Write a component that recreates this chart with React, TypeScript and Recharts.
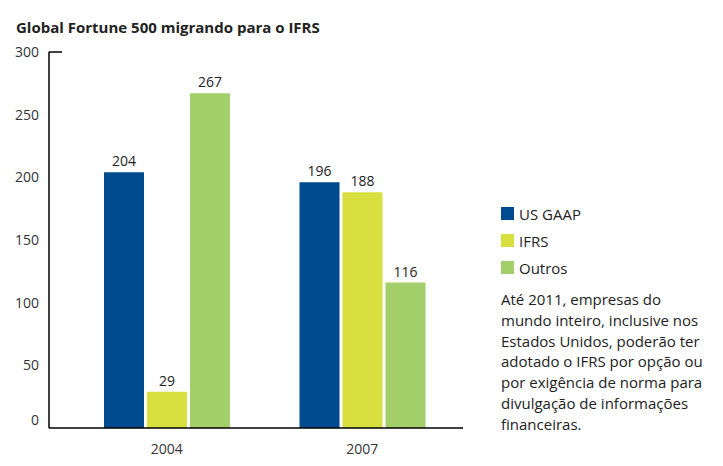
import React from "react";
import { BarChart, Bar, XAxis, YAxis, LabelList } from "recharts";

const categories = ["2004", "2007"];
const usGaap = [204, 196];
const ifrs = [29, 188];
const outros = [267, 116];
const yTicks = [0, 50, 100, 150, 200, 250, 300];
const seriesNames = ["US GAAP", "IFRS", "Outros"];
const colors = ["#004a8f", "#d8e040", "#a2cf69"];
const title = "Global Fortune 500 migrando para o IFRS";
const noteLines = [
  "Até 2011, empresas do",
  "mundo inteiro, inclusive nos",
  "Estados Unidos, poderão ter",
  "adotado o IFRS por opção ou",
  "por exigência de norma para",
  "divulgação de informações",
  "financeiras.",
];

const data = categories.map((c, i) => ({
  year: c,
  usGaap: usGaap[i],
  ifrs: ifrs[i],
  outros: outros[i],
}));

const FONT = "'Open Sans', sans-serif";

const YTick = (props: any) => {
  const { y, payload } = props;
  const v = payload.value;
  return (
    <g>
      {v === 300 && (
        <line x1={49} x2={62} y1={y} y2={y} stroke="#000" strokeWidth={1.5} />
      )}
      <text
        x={39}
        y={v === 0 ? y - 8 : y}
        dy="0.35em"
        textAnchor="end"
        fill="#333"
        fontSize={14}
        fontFamily={FONT}
      >
        {v}
      </text>
    </g>
  );
};

export default function App() {
  return (
    <div
      style={{
        position: "absolute",
        left: 0,
        top: 0,
        width: 723,
        height: 466,
        background: "#fff",
      }}
    >
      <div
        style={{
          position: "absolute",
          left: 16,
          top: 17,
          fontFamily: FONT,
          fontWeight: 700,
          fontSize: 15,
          color: "#222",
          whiteSpace: "nowrap",
        }}
      >
        {title}
      </div>
      <BarChart
        width={723}
        height={466}
        data={data}
        margin={{ top: 52, right: 260, bottom: 8, left: 0 }}
        barSize={40}
        barGap={3}
      >
        <XAxis
          dataKey="year"
          axisLine={{ stroke: "#000", strokeWidth: 1.5 }}
          tickLine={false}
          tickMargin={10}
          padding={{ left: 20, right: 3 }}
          height={30}
          tick={{ fill: "#333", fontSize: 14, fontFamily: FONT }}
        />
        <YAxis
          domain={[0, 300]}
          ticks={yTicks}
          width={49}
          axisLine={{ stroke: "#000", strokeWidth: 1.5 }}
          tickLine={false}
          tick={<YTick />}
        />
        <Bar dataKey="usGaap" name={seriesNames[0]} fill={colors[0]} isAnimationActive={false}>
          <LabelList dataKey="usGaap" position="top" offset={6} fill="#222" fontSize={14} fontFamily={FONT} />
        </Bar>
        <Bar dataKey="ifrs" name={seriesNames[1]} fill={colors[1]} isAnimationActive={false}>
          <LabelList dataKey="ifrs" position="top" offset={6} fill="#222" fontSize={14} fontFamily={FONT} />
        </Bar>
        <Bar dataKey="outros" name={seriesNames[2]} fill={colors[2]} isAnimationActive={false}>
          <LabelList dataKey="outros" position="top" offset={6} fill="#222" fontSize={14} fontFamily={FONT} />
        </Bar>
      </BarChart>
      <div
        style={{
          position: "absolute",
          left: 501,
          top: 200,
          fontFamily: FONT,
          fontSize: 15,
          color: "#222",
        }}
      >
        {seriesNames.map((n, i) => (
          <div key={n} style={{ display: "flex", alignItems: "center", height: 27 }}>
            <span
              style={{
                display: "inline-block",
                width: 13,
                height: 13,
                background: colors[i],
                marginRight: 5,
              }}
            />
            <span>{n}</span>
          </div>
        ))}
      </div>
      <div
        style={{
          position: "absolute",
          left: 501,
          top: 289,
          fontFamily: FONT,
          fontSize: 15,
          lineHeight: "20.8px",
          color: "#222",
          whiteSpace: "nowrap",
        }}
      >
        {noteLines.map((l) => (
          <div key={l}>{l}</div>
        ))}
      </div>
    </div>
  );
}
